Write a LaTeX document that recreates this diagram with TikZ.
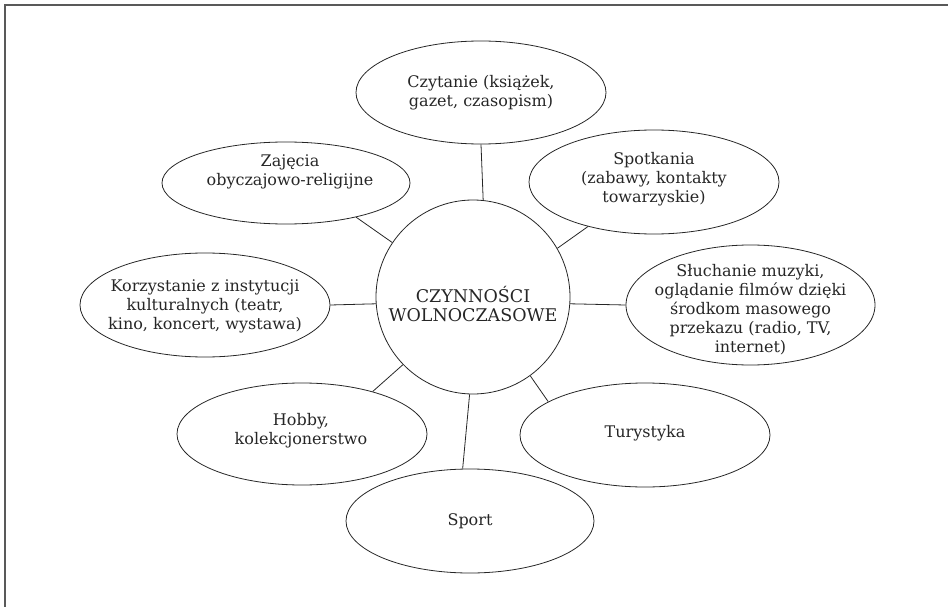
\documentclass[tikz,border=0pt]{standalone}
\usepackage{fontspec}
\setmainfont{DejaVu Serif}
\usetikzlibrary{shapes.geometric}
\begin{document}
\begin{tikzpicture}[x=1pt,y=-1pt,
  oval/.style={draw=black!85, line width=0.8pt, ellipse, inner sep=0pt},
  hub/.style={draw=black!85, line width=0.8pt, circle, inner sep=0pt, minimum size=194pt},
  txt/.style={align=center, font=\fontsize{16}{19}\selectfont, text=black!85, inner sep=0pt},
  hubtxt/.style={txt, font=\fontsize{17.5}{19}\selectfont},
  link/.style={draw=black!85, line width=0.8pt},
  frame/.style={draw=black!65, line width=1.6pt}]
\useasboundingbox (0,0) rectangle (948,607);
\coordinate (fa) at (948,4.8);
\coordinate (fo) at (4.8,4.8);
\coordinate (fb) at (4.8,607);
\draw[frame] (fa) -- (fo) -- (fb);

\node[hub] (c) at (473,297) {};
\node[oval, minimum width=250pt, minimum height=103pt] (cz) at (481,92.5) {};
\node[oval, minimum width=248pt, minimum height=82pt] (za) at (286,183) {};
\node[oval, minimum width=250pt, minimum height=104pt] (sp) at (654,182) {};
\node[oval, minimum width=250pt, minimum height=104pt] (ko) at (205,305) {};
\node[oval, minimum width=249pt, minimum height=120pt] (sl) at (750.5,305) {};
\node[oval, minimum width=250pt, minimum height=104pt] (tu) at (645,435) {};
\node[oval, minimum width=248pt, minimum height=104pt] (sr) at (470,521) {};
\node[oval, minimum width=250pt, minimum height=102pt] (ho) at (302,434) {};

\node[hubtxt] (tc) at (473,304.5) {CZYNNOŚCI\\WOLNOCZASOWE};
\node[txt] (tcz) at (481,92.5) {Czytanie (książek,\\gazet, czasopism)};
\node[txt] (tza) at (290,172) {Zajęcia\\obyczajowo-religijne};
\node[txt] (tsp) at (654,179) {Spotkania\\(zabawy, kontakty\\towarzyskie)};
\node[txt] (tko) at (205,306) {Korzystanie z instytucji\\kulturalnych (teatr,\\kino, koncert, wystawa)};
\node[txt] (tsl) at (750.5,310) {Słuchanie muzyki,\\oglądanie filmów dzięki\\środkom masowego\\przekazu (radio, TV,\\internet)};
\node[txt] (ttu) at (645,433) {Turystyka};
\node[txt] (tsr) at (470,521) {Sport};
\node[txt] (tho) at (301,431) {Hobby,\\kolekcjonerstwo};

\draw[link] (cz.south) -- (c.84.7);
\draw[link] (za.-26.2) -- (c.146.3);
\draw[link] (sp.214.7) -- (c.30.3);
\draw[link] (ko.east) -- (c.184.8);
\draw[link] (sl.west) -- (c.-4.8);
\draw[link] (ho.31.9) -- (c.224.6);
\draw[link] (sr.98.7) -- (c.268.2);
\draw[link] (tu.161.4) -- (c.-54.2);
\end{tikzpicture}
\end{document}
